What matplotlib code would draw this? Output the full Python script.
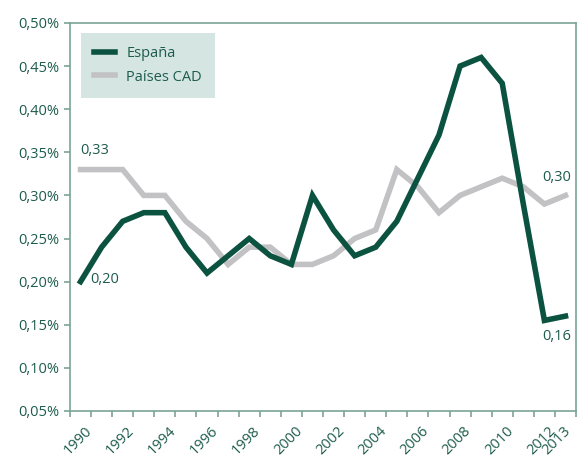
import numpy as np
import matplotlib.pyplot as plt
from matplotlib.ticker import FuncFormatter
from matplotlib.transforms import offset_copy

years = list(range(1990, 2014))
espana = [0.20, 0.24, 0.27, 0.28, 0.28, 0.24, 0.21, 0.23, 0.25, 0.23, 0.22, 0.30,
          0.26, 0.23, 0.24, 0.27, 0.32, 0.37, 0.45, 0.46, 0.43, 0.29, 0.155, 0.16]
cad = [0.33, 0.33, 0.33, 0.30, 0.30, 0.27, 0.25, 0.22, 0.24, 0.24, 0.22, 0.22,
       0.23, 0.25, 0.26, 0.33, 0.31, 0.28, 0.30, 0.31, 0.32, 0.31, 0.29, 0.30]
tick_years = [1990, 1992, 1994, 1996, 1998, 2000, 2002, 2004, 2006, 2008, 2010, 2012, 2013]

dark = '#0b5340'
grey = '#c2c2c4'
txt = '#1d5c4c'
spine = '#7aa396'

plt.rcParams['font.family'] = ['Open Sans', 'DejaVu Sans']

fig = plt.figure(figsize=(5.77, 4.57), dpi=100)
ax = fig.add_axes([0.1213, 0.1007, 0.8770, 0.8490])

x = np.arange(len(years))
ax.plot(x, cad, color=grey, lw=4, solid_joinstyle='miter', label='Países CAD')
ax.plot(x, espana, color=dark, lw=4, solid_joinstyle='miter', label='España')

ax.set_xlim(-0.5, len(years) - 0.5)
ax.set_ylim(0.05, 0.50)
ax.set_yticks(np.arange(0.05, 0.501, 0.05))
ax.yaxis.set_major_formatter(FuncFormatter(lambda v, p: ('%.2f%%' % v).replace('.', ',')))

ax.set_xticks(np.arange(-0.5, len(years), 1.0))
ax.set_xticklabels([])
lab_tr = offset_copy(ax.transData, fig=fig, x=0, y=-12.5, units='points')
for ty in tick_years:
    i = years.index(ty)
    dx = 0.12 if ty == 2013 else 0.42
    ax.text(i + dx, 0.05, str(ty), transform=lab_tr, rotation=45,
            ha='right', va='center', rotation_mode='anchor', fontsize=10.5, color=txt,
            clip_on=False)

for s in ax.spines.values():
    s.set_color(spine)
    s.set_linewidth(1.2)
ax.tick_params(axis='both', colors=spine, length=4, width=1.2, direction='out')
ax.tick_params(axis='y', labelcolor=txt, labelsize=10.5)

ax.text(0, 0.343, '0,33', color=txt, fontsize=10.5, ha='left', va='bottom')
ax.text(0.45, 0.203, '0,20', color=txt, fontsize=10.5, ha='left', va='center')
ax.text(22.6, 0.312, '0,30', color=txt, fontsize=10.5, ha='center', va='bottom')
ax.text(22.6, 0.145, '0,16', color=txt, fontsize=10.5, ha='center', va='top')

h, l = ax.get_legend_handles_labels()
leg = ax.legend(h[::-1], l[::-1], loc='upper left', bbox_to_anchor=(0.022, 0.975),
                frameon=True, fancybox=False, facecolor='#d4e5e2', edgecolor='none',
                framealpha=1, fontsize=10.5, handlelength=1.4, borderpad=0.9,
                labelspacing=0.6, borderaxespad=0, handletextpad=0.8)
for t in leg.get_texts():
    t.set_color(txt)

fig.savefig('out.png', dpi=100)
